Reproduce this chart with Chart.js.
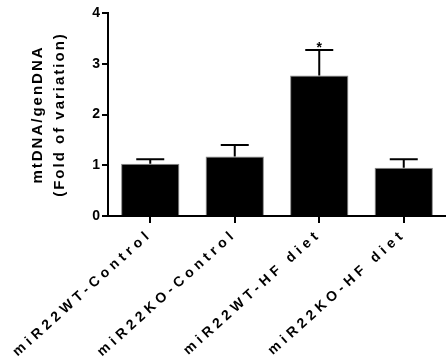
<!DOCTYPE html>
<html><head><meta charset="utf-8">
<script src="https://cdn.jsdelivr.net/npm/chart.js@4/dist/chart.umd.min.js"></script>
<style>html,body{margin:0;padding:0;background:#fff}#w{width:446px;height:360px}</style>
</head><body><div id="w"><canvas id="c"></canvas></div>
<script>
const categories = ['miR22WT-Control','miR22KO-Control','miR22WT-HF diet','miR22KO-HF diet'];
const values = [1.03, 1.17, 2.77, 0.95];
const errors = [0.09, 0.23, 0.50, 0.17];
const marks = ['', '', '*', ''];
const yTicks = [0, 1, 2, 3, 4];
const yTitle = ['mtDNA/genDNA', '(Fold of variation)'];

const FONT = "'Liberation Sans', Arial, sans-serif";

const spacingPlugin = {
  id: 'spacing',
  afterLayout(chart) {
    const wrap = (scale, fn, sp) => {
      if (scale['_w_' + fn]) return;
      const orig = scale[fn];
      scale[fn] = function(...a) {
        const ctx = this.ctx; ctx.save(); ctx.letterSpacing = sp;
        orig.apply(this, a); ctx.restore();
      };
      scale['_w_' + fn] = true;
    };
    wrap(chart.scales.x, 'drawLabels', '4.3px');
    wrap(chart.scales.y, 'drawTitle', '2px');
  }
};

const errPlugin = {
  id: 'err',
  afterDatasetsDraw(chart) {
    const ctx = chart.ctx, meta = chart.getDatasetMeta(0), y = chart.scales.y;
    ctx.save();
    ctx.strokeStyle = '#000'; ctx.lineWidth = 2;
    meta.data.forEach((bar, i) => {
      const x = bar.x;
      const yt = y.getPixelForValue(values[i]);
      const ye = y.getPixelForValue(values[i] + errors[i]);
      ctx.beginPath();
      ctx.moveTo(x, yt); ctx.lineTo(x, ye);
      ctx.moveTo(x - 14, ye); ctx.lineTo(x + 14, ye);
      ctx.stroke();
      if (marks[i]) {
        ctx.fillStyle = '#000';
        ctx.font = 'bold 14px ' + FONT;
        ctx.textAlign = 'center'; ctx.textBaseline = 'middle';
        ctx.fillText(marks[i], x, ye - 2);
      }
    });
    ctx.restore();
  }
};

new Chart(document.getElementById('c'), {
  type: 'bar',
  data: {
    labels: categories,
    datasets: [{
      data: values,
      backgroundColor: '#000',
      borderColor: '#888',
      borderWidth: 1,
      categoryPercentage: 1,
      barPercentage: 0.69
    }]
  },
  options: {
    responsive: true,
    maintainAspectRatio: false,
    animation: false,
    layout: { padding: { top: 13, right: 0, left: 0, bottom: 0 } },
    plugins: { legend: { display: false }, tooltip: { enabled: false } },
    scales: {
      x: {
        grid: { display: true, drawOnChartArea: false, drawTicks: true, tickLength: 7, color: '#000', lineWidth: 2, offset: false },
        border: { display: true, color: '#000', width: 2 },
        ticks: { color: '#000', font: { family: FONT, size: 14, weight: 'bold' }, minRotation: 42, maxRotation: 42, padding: 3, autoSkip: false },
        afterFit(s) { s.height = 144; }
      },
      y: {
        min: 0, max: 4,
        afterBuildTicks(s) { s.ticks = yTicks.map(v => ({ value: v })); },
        grid: { display: true, drawOnChartArea: false, drawTicks: true, tickLength: 6, color: '#000', lineWidth: 2 },
        border: { display: true, color: '#000', width: 2 },
        ticks: { color: '#000', font: { family: FONT, size: 14, weight: 'bold' }, padding: 2 },
        title: { display: true, text: yTitle, color: '#000', font: { family: FONT, size: 15, weight: 'bold', lineHeight: 1.45 }, padding: { top: 27, bottom: 0 } },
        afterFit(s) { s.width = 108; }
      }
    }
  },
  plugins: [spacingPlugin, errPlugin]
});
</script>
</body></html>
